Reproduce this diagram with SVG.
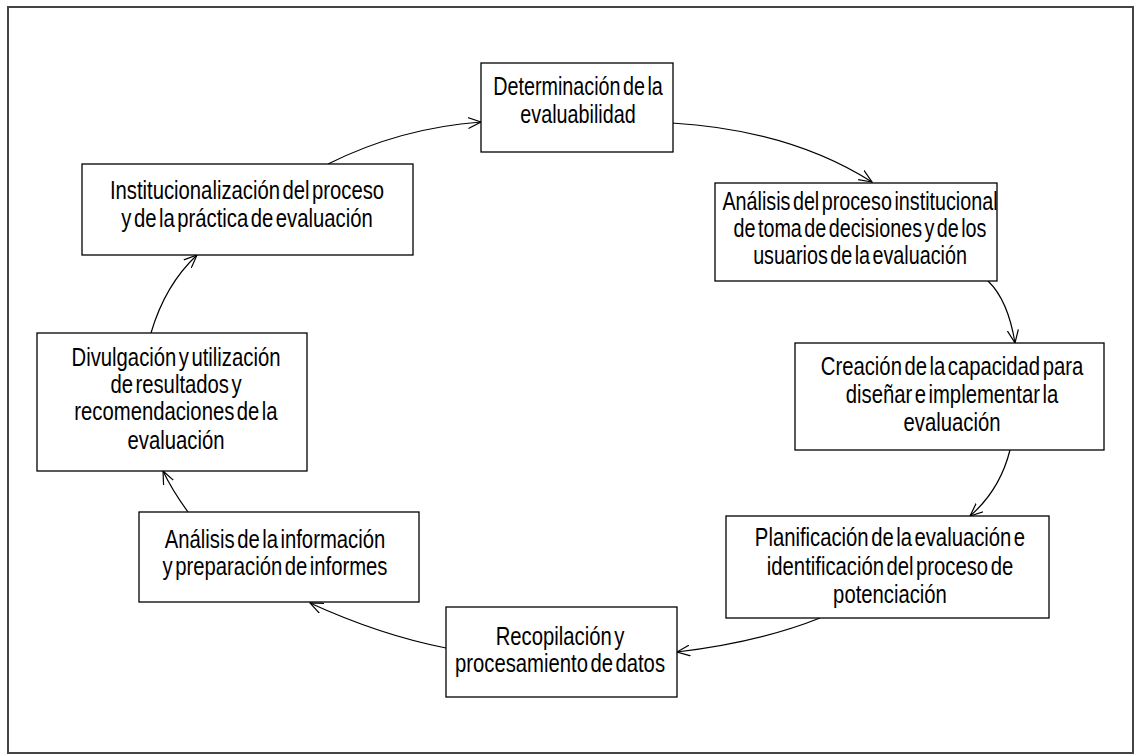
<svg xmlns="http://www.w3.org/2000/svg" width="1135" height="755" viewBox="0 0 1135 755">
<style>
.frame{fill:#fff;stroke:#444;stroke-width:2}
.box{fill:#fff;stroke:#000;stroke-width:1.3}
.t{font-family:"Liberation Sans",Arial,sans-serif;font-size:26px;fill:#000;text-anchor:middle;word-spacing:-4px}
.c{fill:none;stroke:#000;stroke-width:1.2;marker-end:url(#ah)}
</style>
<defs>
<marker id="ah" markerUnits="userSpaceOnUse" markerWidth="14" markerHeight="12" refX="13" refY="6" orient="auto" viewBox="0 0 14 12">
<path d="M0,0.5 L13,6 L0,11.5" fill="none" stroke="#000" stroke-width="1.2"/>
</marker>
</defs>
<rect class="frame" x="8" y="7" width="1125" height="746"/>
<g id="connectors">
<path class="c" d="M328,164 Q400,128 481,122"/>
<path class="c" d="M672,123 Q790,130 872,182"/>
<path class="c" d="M988,281 Q1008,300 1015,343"/>
<path class="c" d="M1010,450 Q1000,490 970,516"/>
<path class="c" d="M820,618 Q760,642 677,652"/>
<path class="c" d="M446,648 Q380,635 310,603"/>
<path class="c" d="M188,512 Q172,490 163,471"/>
<path class="c" d="M151,333 Q165,285 197,255"/>
</g>
<g id="n1">
<rect class="box" x="481" y="63" width="192" height="89"/>
<text class="t" transform="translate(578 0) scale(0.76 1)"><tspan x="0" y="95">Determinación de la</tspan><tspan x="0" y="123">evaluabilidad</tspan></text>
</g>
<g id="n2">
<rect class="box" x="715" y="183" width="282" height="98"/>
<text class="t" transform="translate(860 0) scale(0.76 1)"><tspan x="0" y="210">Análisis del proceso institucional</tspan><tspan x="0" y="237">de toma de decisiones y de los</tspan><tspan x="0" y="264">usuarios de la evaluación</tspan></text>
</g>
<g id="n3">
<rect class="box" x="795" y="343" width="309" height="107"/>
<text class="t" transform="translate(952 0) scale(0.78 1)"><tspan x="0" y="375">Creación de la capacidad para</tspan><tspan x="0" y="403">diseñar e implementar la</tspan><tspan x="0" y="431">evaluación</tspan></text>
</g>
<g id="n4">
<rect class="box" x="726" y="516" width="323" height="102"/>
<text class="t" transform="translate(890 0) scale(0.78 1)"><tspan x="0" y="546">Planificación de la evaluación e</tspan><tspan x="0" y="575">identificación del proceso de</tspan><tspan x="0" y="603">potenciación</tspan></text>
</g>
<g id="n5">
<rect class="box" x="446" y="607" width="231" height="90"/>
<text class="t" transform="translate(560 0) scale(0.78 1)"><tspan x="0" y="645">Recopilación y</tspan><tspan x="0" y="672">procesamiento de datos</tspan></text>
</g>
<g id="n6">
<rect class="box" x="139" y="512" width="280" height="90"/>
<text class="t" transform="translate(275 0) scale(0.78 1)"><tspan x="0" y="548">Análisis de la información</tspan><tspan x="0" y="575">y preparación de informes</tspan></text>
</g>
<g id="n7">
<rect class="box" x="37" y="333" width="270" height="138"/>
<text class="t" transform="translate(176 0) scale(0.78 1)"><tspan x="0" y="366">Divulgación y utilización</tspan><tspan x="0" y="393">de resultados y</tspan><tspan x="0" y="420">recomendaciones de la</tspan><tspan x="0" y="449">evaluación</tspan></text>
</g>
<g id="n8">
<rect class="box" x="82" y="164" width="331" height="91"/>
<text class="t" transform="translate(247 0) scale(0.78 1)"><tspan x="0" y="199">Institucionalización del proceso</tspan><tspan x="0" y="227">y de la práctica de evaluación</tspan></text>
</g>
</svg>
